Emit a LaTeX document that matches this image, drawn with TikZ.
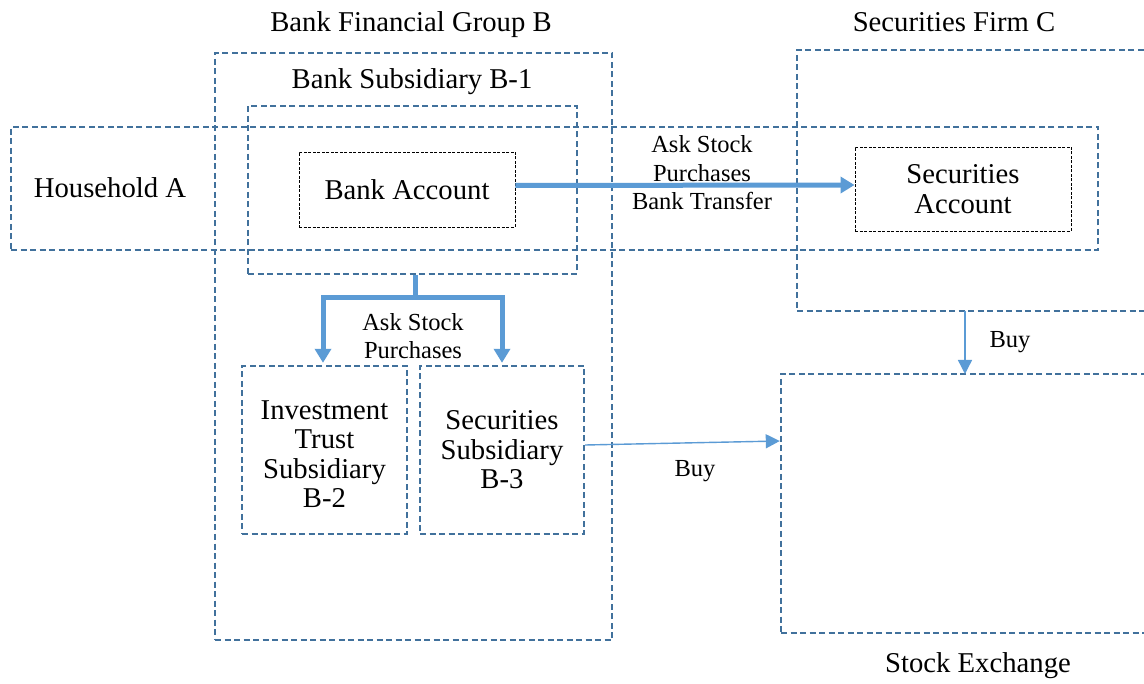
\documentclass[tikz,border=0pt]{standalone}
\usepackage{fontspec}
\setmainfont{Liberation Serif}
\usetikzlibrary{arrows.meta}
\definecolor{boxblue}{HTML}{41719C}
\definecolor{arrblue}{HTML}{5B9BD5}
\tikzset{
  bluebox/.style={draw=boxblue, line width=2.4pt, dash pattern=on 6pt off 3.5pt, inner sep=0pt, rectangle},
  blackbox/.style={draw=black, line width=0.9pt, dash pattern=on 3pt off 1.5pt, inner sep=0pt, rectangle, align=center, font=\bigfont},
  bigtxt/.style={inner sep=0pt, align=center, font=\bigfont},
  smalltxt/.style={inner sep=0pt, align=center, font=\smallfont},
  thickarr/.style={draw=arrblue, line width=5pt, -{Triangle[length=14pt,width=16pt]}},
  thinarr/.style={draw=arrblue, line width=1.4pt, -{Triangle[length=14pt,width=14pt]}}
}
\newcommand{\bigfont}{\fontsize{28.7}{29.5}\selectfont}
\newcommand{\smallfont}{\fontsize{24.5}{28.5}\selectfont}
\begin{document}
\begin{tikzpicture}[x=1pt,y=-1pt]
\useasboundingbox (0,0) rectangle (1144,684);
\clip (0,0) rectangle (1144,684);
\fill[white] (0,0) rectangle (1144,684);

% containers
\node[bluebox, minimum width=397pt, minimum height=587pt] (group) at (413.5,346.5) {};
\node[bluebox, minimum width=1087pt, minimum height=123pt] (house) at (554.5,188.5) {};
\node[bluebox, minimum width=329pt, minimum height=168pt] (sub1) at (412.5,190) {};
\node[bluebox, minimum width=380pt, minimum height=261pt] (firmC) at (987,180.5) {};
\node[bluebox, minimum width=400pt, minimum height=259pt] (exch) at (981,503.5) {};

% inner boxes
\node[blackbox, minimum width=216pt, minimum height=75pt] (bankacc) at (407,189.5) {Bank Account};
\node[blackbox, minimum width=216pt, minimum height=84pt] (secacc) at (963,189) {Securities\\Account};
\node[bluebox, minimum width=165pt, minimum height=168pt] (inv) at (324.5,450) {};
\node[bigtxt] (invtxt) at ([yshift=-4pt]inv.center) {Investment\\Trust\\Subsidiary\\B-2};
\node[bluebox, bigtxt, minimum width=164pt, minimum height=168pt] (secsub) at (502,450) {Securities\\Subsidiary\\B-3};

% titles
\node[bigtxt] (tgroup) at (411,25) {Bank Financial Group B};
\node[bigtxt] (tsub1) at (412,82) {Bank Subsidiary B-1};
\node[bigtxt] (thouse) at (110,188) {Household A};
\node[bigtxt] (tfirm) at (954,22) {Securities Firm C};
\node[bigtxt] (texch) at (978,666) {Stock Exchange};

% connectors
\draw[thickarr] ([yshift=4pt]bankacc.east) -- ([yshift=4pt]secacc.west);
\node[smalltxt] (l1) at (702,173) {Ask Stock\\Purchases\\Bank Transfer};

\draw[draw=arrblue, line width=5pt] ([xshift=2.5pt]sub1.south) -- ++(0,22) coordinate (split);
\draw[thickarr] (split) -| ([xshift=-1.5pt,yshift=2pt]inv.north);
\draw[thickarr] (split) -| ([yshift=2pt]secsub.north);
\node[smalltxt] (l2) at (413,336) {Ask Stock\\Purchases};

\draw[thinarr] ([yshift=5pt]secsub.east) -- ([yshift=62.5pt]exch.west);
\node[smalltxt] (l3) at (695,471) {Buy};

\draw[thinarr] (965,311) -- (965,374);
\node[smalltxt] (l4) at (1010,342) {Buy};
\end{tikzpicture}
\end{document}
